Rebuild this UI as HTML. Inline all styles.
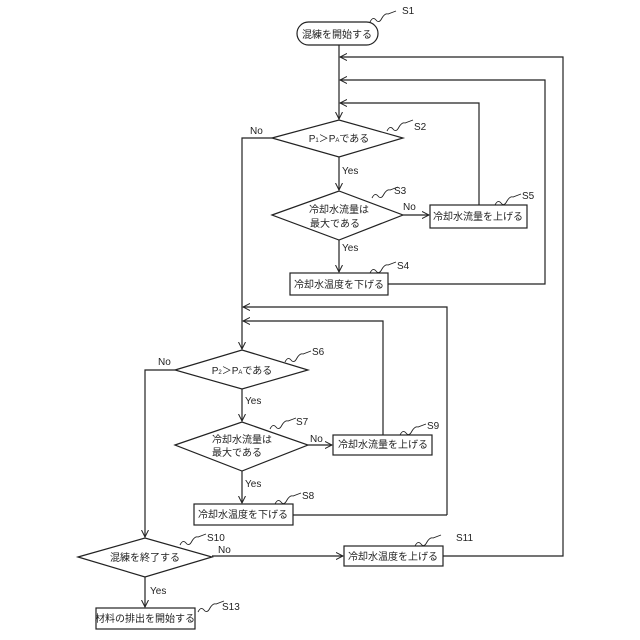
<!DOCTYPE html>
<html><head><meta charset="utf-8"><style>
html,body{margin:0;padding:0;background:#fff}
svg{display:block}
text{font-family:"Liberation Sans","Noto Sans CJK JP",sans-serif;font-size:10px;fill:#222}
.j{font-size:10px}
</style></head><body>
<svg width="640" height="640" viewBox="0 0 640 640" xmlns="http://www.w3.org/2000/svg">
<defs>
<marker id="a" markerWidth="8" markerHeight="8" refX="7" refY="4" orient="auto" markerUnits="userSpaceOnUse">
<path d="M0,0.5 L7,4 L0,7.5" fill="none" stroke="#222" stroke-width="1"/>
</marker>
</defs>
<g fill="none" stroke="#222" stroke-width="1.2">
<!-- S1 -->
<rect x="297" y="22" width="81" height="23" rx="11.5" fill="#fff"/>
<!-- main line to S2 -->
<line x1="339" y1="45" x2="339" y2="119" marker-end="url(#a)"/>
<!-- feedback lines -->
<polyline points="443,556 563,556 563,57 340,57" marker-end="url(#a)"/>
<polyline points="388,284 545,284 545,80 340,80" marker-end="url(#a)"/>
<polyline points="479,205 479,103 340,103" marker-end="url(#a)"/>
<!-- S2 -->
<polygon points="272,138 339,120 403,138 339,157" fill="#fff"/>
<line x1="339" y1="157" x2="339" y2="190" marker-end="url(#a)"/>
<!-- S3 -->
<polygon points="272,215 339,191 403,215 339,240" fill="#fff"/>
<line x1="403" y1="215" x2="429" y2="215" marker-end="url(#a)"/>
<rect x="430" y="205" width="97" height="23" fill="#fff"/>
<line x1="339" y1="240" x2="339" y2="272" marker-end="url(#a)"/>
<rect x="290" y="273" width="98" height="22" fill="#fff"/>
<!-- S2 No -->
<polyline points="272,138 242,138 242,349" marker-end="url(#a)"/>
<polyline points="447,515 447,307 243,307" marker-end="url(#a)"/>
<polyline points="383,435 383,321 243,321" marker-end="url(#a)"/>
<!-- S6 -->
<polygon points="175,370 242,350 308,370 242,389" fill="#fff"/>
<line x1="242" y1="389" x2="242" y2="421" marker-end="url(#a)"/>
<polygon points="175,445 242,422 308,445 242,471" fill="#fff"/>
<line x1="308" y1="445" x2="332" y2="445" marker-end="url(#a)"/>
<rect x="333" y="435" width="99" height="20" fill="#fff"/>
<line x1="242" y1="471" x2="242" y2="503" marker-end="url(#a)"/>
<rect x="194" y="504" width="99" height="21" fill="#fff"/>
<line x1="293" y1="515" x2="447" y2="515"/>
<!-- S6 No -->
<polyline points="175,370 145,370 145,537" marker-end="url(#a)"/>
<!-- S10 -->
<polygon points="78,557 145,538 212,557 145,577" fill="#fff"/>
<line x1="212" y1="556" x2="343" y2="556" marker-end="url(#a)"/>
<rect x="344" y="546" width="99" height="20" fill="#fff"/>
<line x1="145" y1="577" x2="145" y2="607" marker-end="url(#a)"/>
<rect x="96" y="608" width="99" height="21" fill="#fff"/>
<!-- squiggles -->
<g stroke-width="0.9">
<path d="M370,22 q3,-6 6,-2 q3,4 6,-2 q3,-5 6,-4 l8,-3"/>
<path d="M387,131 q3,-6 6,-2 q3,4 6,-2 q3,-5 6,-4 l8,-3"/>
<path d="M372,198 q3,-6 6,-2 q3,4 6,-2 q3,-5 6,-4 l8,-3"/>
<path d="M495,205 q3,-6 6,-2 q3,4 6,-2 q3,-5 6,-4 l8,-3"/>
<path d="M370,273 q3,-6 6,-2 q3,4 6,-2 q3,-5 6,-4 l8,-3"/>
<path d="M285,362 q3,-6 6,-2 q3,4 6,-2 q3,-5 6,-4 l8,-3"/>
<path d="M270,429 q3,-6 6,-2 q3,4 6,-2 q3,-5 6,-4 l8,-3"/>
<path d="M400,435 q3,-6 6,-2 q3,4 6,-2 q3,-5 6,-4 l8,-3"/>
<path d="M275,504 q3,-6 6,-2 q3,4 6,-2 q3,-5 6,-4 l8,-3"/>
<path d="M180,545 q3,-6 6,-2 q3,4 6,-2 q3,-5 6,-4 l8,-3"/>
<path d="M415,546 q3,-6 6,-2 q3,4 6,-2 q3,-5 6,-4 l8,-3"/>
<path d="M198,612 q3,-6 6,-2 q3,4 6,-2 q3,-5 6,-4 l8,-3"/>
</g>
</g>
<g>
<text x="337" y="38" text-anchor="middle">混練を開始する</text>
<text x="402" y="14">S1</text>
<text x="339" y="142" text-anchor="middle">P<tspan font-size="6">1</tspan>＞P<tspan font-size="6">A</tspan>である</text>
<text x="414" y="130">S2</text>
<text x="342" y="174">Yes</text>
<text x="250" y="134">No</text>
<text x="339" y="213" text-anchor="middle">冷却水流量は</text>
<text x="335" y="227" text-anchor="middle">最大である</text>
<text x="394" y="194">S3</text>
<text x="403" y="210">No</text>
<text x="478" y="220" text-anchor="middle">冷却水流量を上げる</text>
<text x="522" y="199">S5</text>
<text x="342" y="251">Yes</text>
<text x="339" y="288" text-anchor="middle">冷却水温度を下げる</text>
<text x="397" y="269">S4</text>
<text x="242" y="374" text-anchor="middle">P<tspan font-size="6">2</tspan>＞P<tspan font-size="6">A</tspan>である</text>
<text x="312" y="355">S6</text>
<text x="158" y="365">No</text>
<text x="245" y="404">Yes</text>
<text x="242" y="443" text-anchor="middle">冷却水流量は</text>
<text x="237" y="456" text-anchor="middle">最大である</text>
<text x="296" y="425">S7</text>
<text x="310" y="442">No</text>
<text x="383" y="448" text-anchor="middle">冷却水流量を上げる</text>
<text x="427" y="429">S9</text>
<text x="245" y="487">Yes</text>
<text x="243" y="518" text-anchor="middle">冷却水温度を下げる</text>
<text x="302" y="499">S8</text>
<text x="145" y="561" text-anchor="middle">混練を終了する</text>
<text x="207" y="541">S10</text>
<text x="218" y="553">No</text>
<text x="393" y="560" text-anchor="middle">冷却水温度を上げる</text>
<text x="456" y="541">S11</text>
<text x="150" y="594">Yes</text>
<text x="145" y="622" text-anchor="middle">材料の排出を開始する</text>
<text x="222" y="610">S13</text>
</g>
</svg>
</body></html>
